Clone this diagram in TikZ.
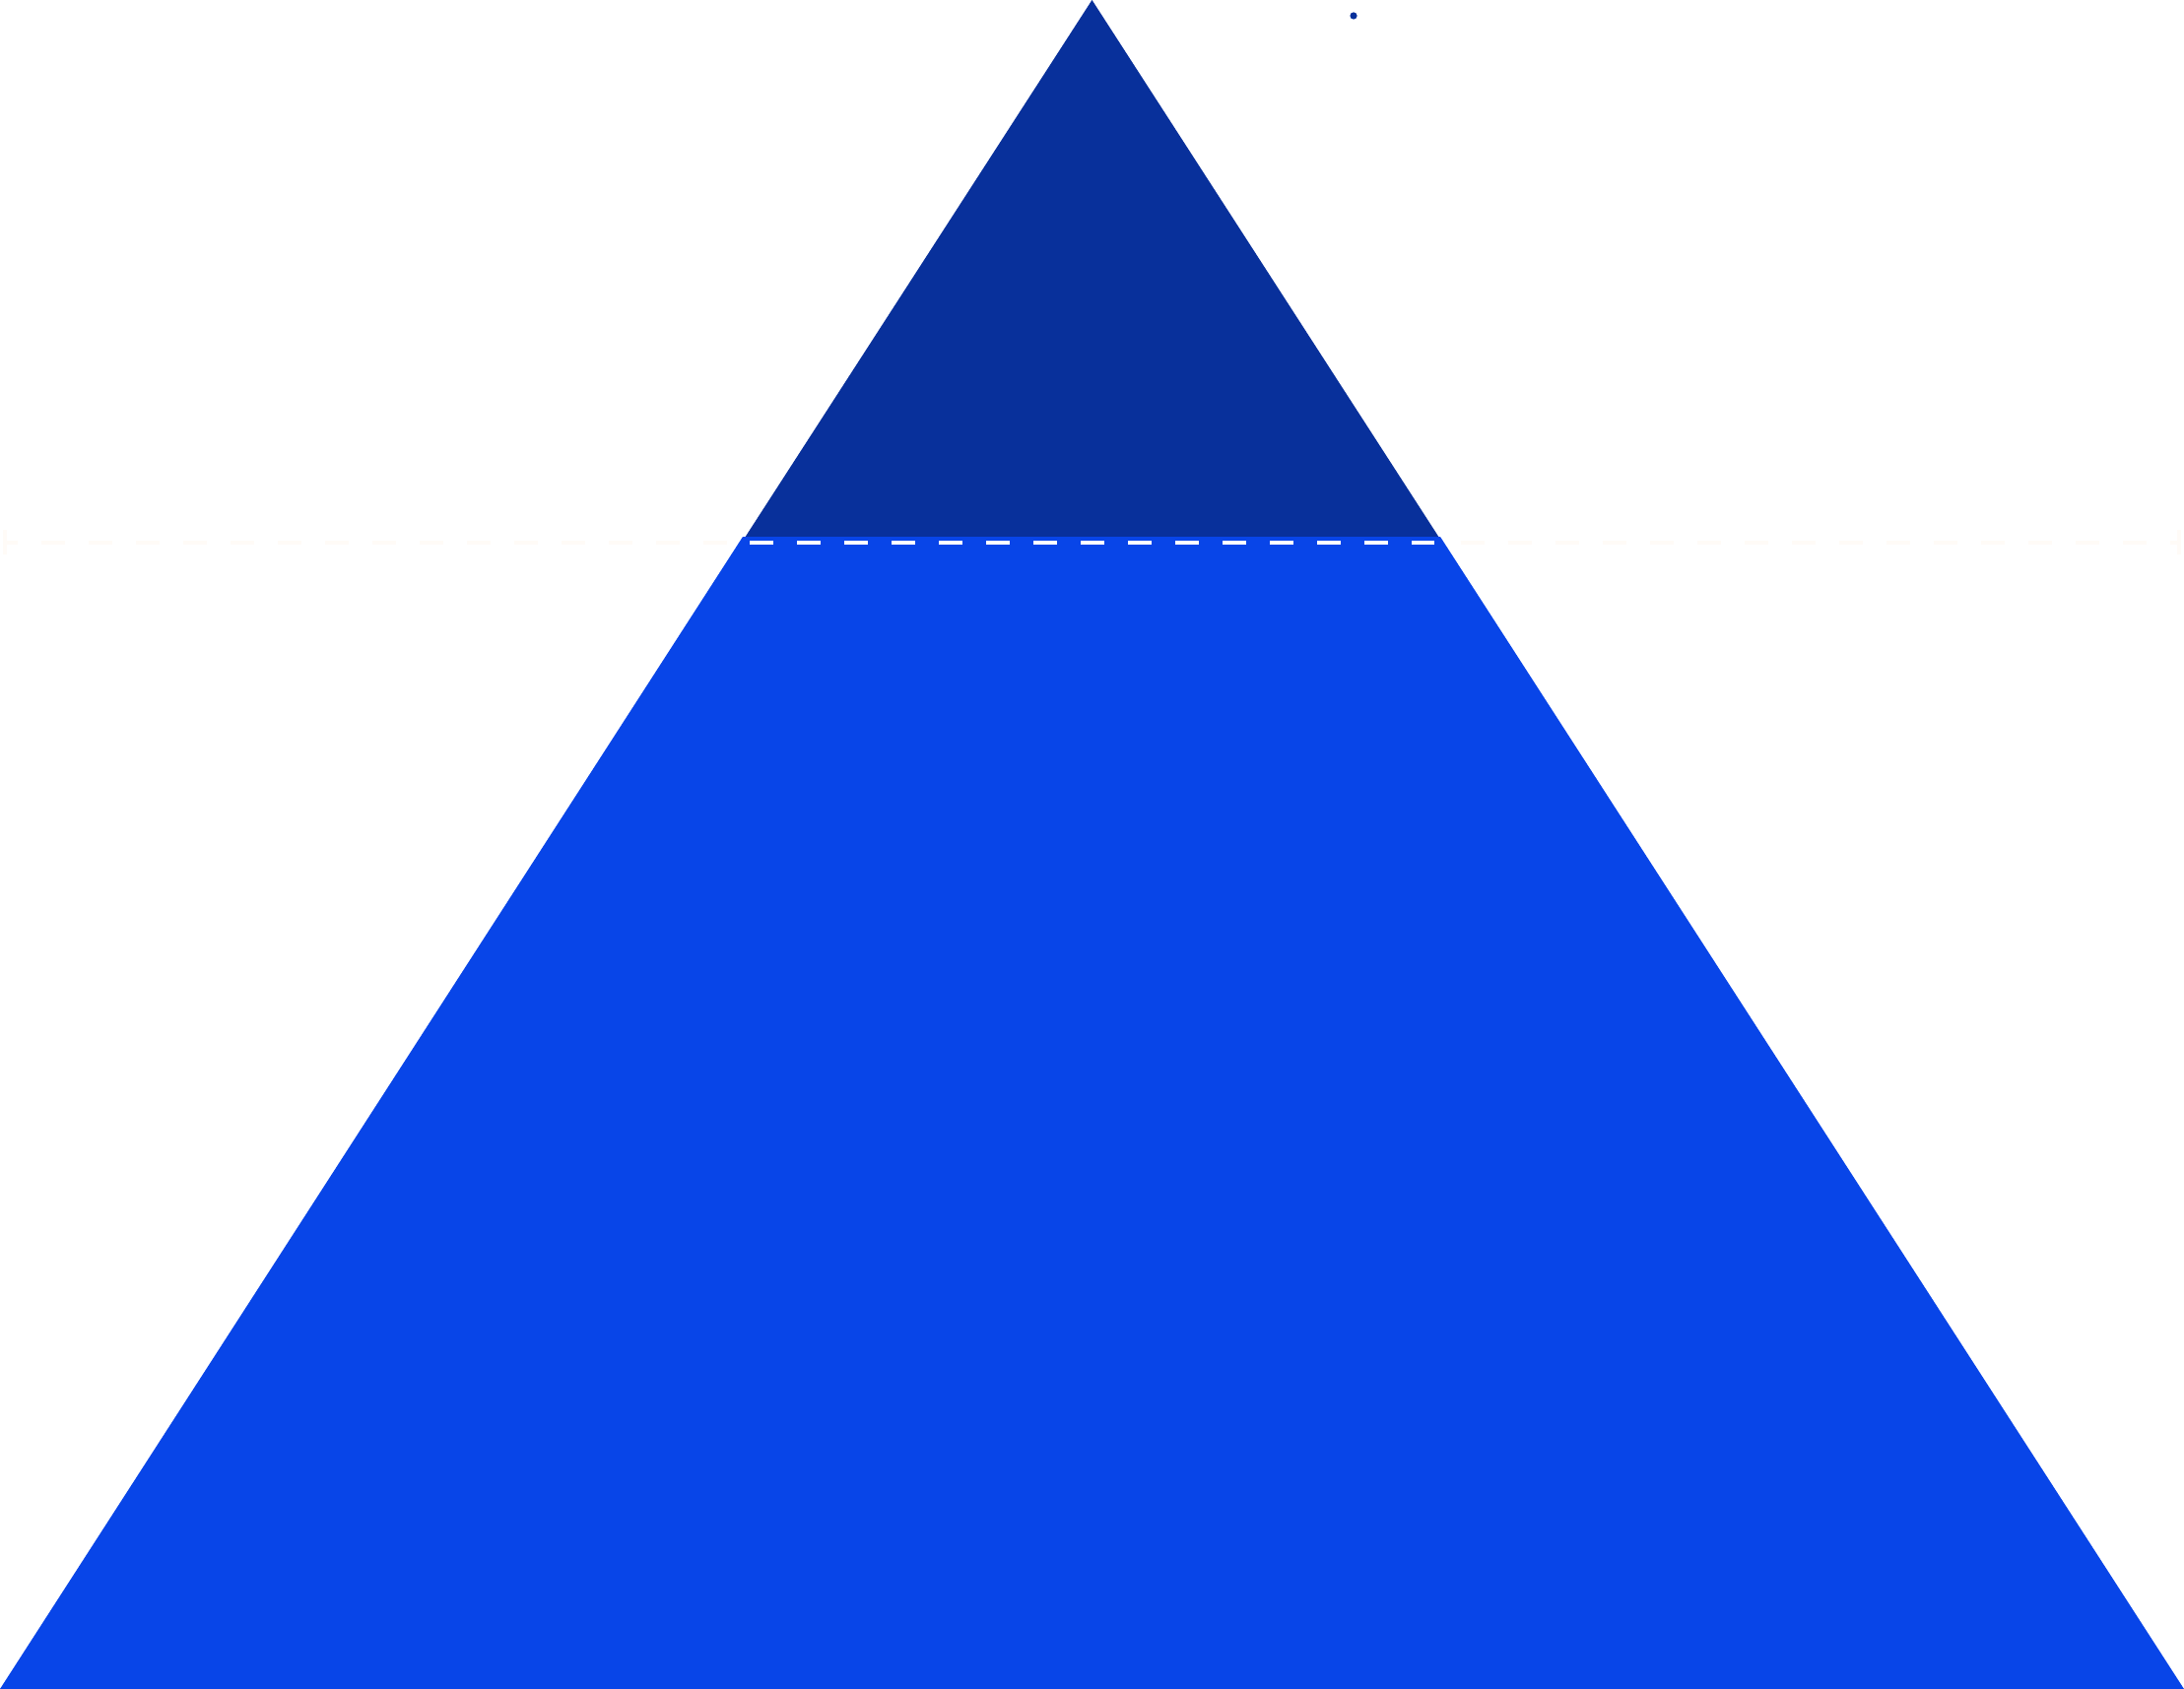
\documentclass[tikz,border=0pt]{standalone}
\begin{document}
\begin{tikzpicture}[x=0.01cm,y=-0.01cm,
  faintline/.style={draw=white!97!orange, line width=0.045cm, dash pattern=on 0.24cm off 0.24cm},
  whitedash/.style={draw=white, line width=0.045cm, dash pattern=on 0.24cm off 0.24cm}]
\definecolor{navy}{RGB}{8,48,155}
\definecolor{brightblue}{RGB}{8,69,232}
\useasboundingbox[fill=white] (0,0) rectangle (2217,1715);
% faint guide line across the width
\draw[faintline, dash phase=0.13cm] (7,551) -- (2210,551);
\draw[draw=white!97!orange, line width=0.045cm] (5,538) -- (5,563);
\draw[draw=white!97!orange, line width=0.045cm] (2212,538) -- (2212,563);
% top (dark) triangle
\fill[navy] (1108.5,0) -- (756,546) -- (1461,546) -- cycle;
% lower (bright) trapezoid
\fill[brightblue] (754,545) -- (1462,545) -- (2217,1715) -- (0,1715) -- cycle;
% white dashed divider
\draw[whitedash] (761,551) -- (1456,551);
% small dot
\fill[navy] (1374,16) circle (3.6);
\end{tikzpicture}
\end{document}
